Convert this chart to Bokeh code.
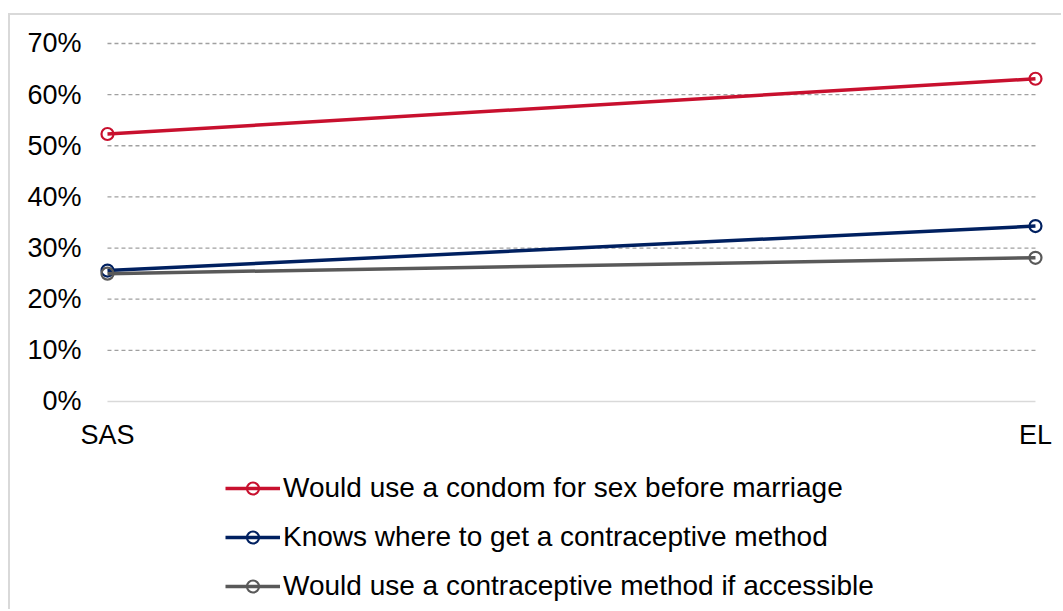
from bokeh.plotting import figure
from bokeh.models import Range1d, FixedTicker, Legend, LegendItem, NumeralTickFormatter
from bokeh.embed import file_html
from bokeh.resources import INLINE

# Survey rounds and indicator shares
rounds = ["SAS", "EL"]
condom_before_marriage = [0.523, 0.631]
knows_where_contraceptive = [0.256, 0.343]
would_use_if_accessible = [0.250, 0.281]

series_labels = [
    "Would use a condom for sex before marriage",
    "Knows where to get a contraceptive method",
    "Would use a contraceptive method if accessible",
]
y_ticks = [0.0, 0.1, 0.2, 0.3, 0.4, 0.5, 0.6, 0.7]

RED = "#C8102E"
NAVY = "#002060"
GREY = "#595959"
FONT = "Liberation Sans"

xs = list(range(len(rounds)))

# the plotting frame fills the whole canvas so the legend sits inside it;
# both axes are pinned at the origin
p = figure(
    width=1053, height=596,
    output_backend="svg", toolbar_location=None,
    x_range=Range1d(-0.1045, 1.0302), y_range=Range1d(-0.4106, 0.7547),
    min_border_left=0, min_border_right=0, min_border_top=0, min_border_bottom=0,
)
p.styles = {
    "margin-left": "8px", "margin-top": "13px",
    "border-left": "2px solid #D9D9D9", "border-top": "2px solid #D9D9D9",
}
p.outline_line_color = None
p.background_fill_color = "white"
p.border_fill_color = "white"
p.xgrid.visible = False
p.ygrid.visible = False

# dashed gridlines spanning the category positions
grid_vals = [t for t in y_ticks if t > 0]
p.segment(x0=[xs[0]] * len(grid_vals), x1=[xs[-1]] * len(grid_vals),
          y0=grid_vals, y1=grid_vals, line_color="#A0A0A0", line_width=1.3,
          line_dash="4 3")
p.segment(x0=[xs[0]], x1=[xs[-1]], y0=[0], y1=[0], line_color="#D9D9D9", line_width=1.5)

# axes
p.yaxis.ticker = FixedTicker(ticks=y_ticks)
p.yaxis.formatter = NumeralTickFormatter(format="0%")
p.yaxis.fixed_location = 0
p.xaxis.ticker = FixedTicker(ticks=xs)
p.xaxis.major_label_overrides = {i: r for i, r in enumerate(rounds)}
p.xaxis.fixed_location = 0
for ax in (p.xaxis[0], p.yaxis[0]):
    ax.axis_line_color = None
    ax.major_tick_line_color = None
    ax.minor_tick_line_color = None
    ax.major_label_text_font = FONT
    ax.major_label_text_font_size = "27px"
    ax.major_label_text_color = "#000000"
p.yaxis.major_label_standoff = 20
p.xaxis.major_label_standoff = 13

items = []
for vals, color, label in zip(
    [condom_before_marriage, knows_where_contraceptive, would_use_if_accessible],
    [RED, NAVY, GREY], series_labels,
):
    ln = p.line(xs, vals, line_color=color, line_width=3.5)
    mk = p.scatter(xs, vals, marker="circle", size=12, fill_color=None,
                   line_color=color, line_width=2.2)
    items.append(LegendItem(label=label, renderers=[ln, mk]))

legend = Legend(
    items=items, orientation="vertical", location=(215, 9),
    glyph_width=55, glyph_height=30, label_height=20, spacing=17,
    label_standoff=3, padding=0, margin=0,
    label_text_font=FONT, label_text_font_size="28px", label_text_color="#000000",
    border_line_color=None, background_fill_alpha=0,
)
p.add_layout(legend, "center")

with open("out.html", "w") as f:
    f.write(file_html(p, INLINE))
